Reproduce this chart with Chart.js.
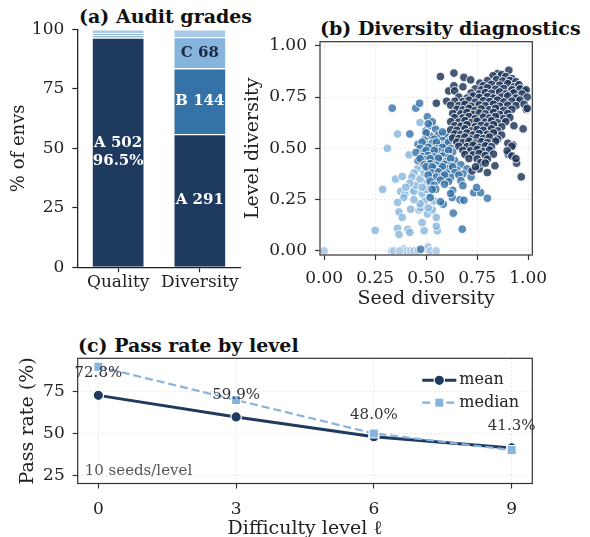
<!DOCTYPE html>
<html>
<head>
<meta charset="utf-8">
<title>Audit grades, diversity and pass rate</title>
<script src="https://cdn.jsdelivr.net/npm/chart.js@4.4.1/dist/chart.umd.min.js"></script>
<style>
    html, body { margin: 0; padding: 0; background: #fff; overflow: hidden; }
    body { width: 590px; height: 537px; position: relative; }
    canvas { position: absolute; }
    .panelTitle { position: absolute; font: bold 19px 'DejaVu Serif', serif; color: #111; line-height: 22px; white-space: nowrap; }
</style>
</head>
<body>
<div class="panelTitle" style="left:79px;top:5px">(a) Audit grades</div>
<div class="panelTitle" style="left:320px;top:17px">(b) Diversity diagnostics</div>
<div class="panelTitle" style="left:78px;top:334px">(c) Pass rate by level</div>
<canvas id="gradesChart" width="250" height="300" style="left:0;top:0"></canvas>
<canvas id="diversityChart" width="354" height="320" style="left:236px;top:0"></canvas>
<canvas id="passChart" width="590" height="222" style="left:0;top:320px"></canvas>
<script>
// ---- (a) audit grades: env counts per grade ----
const auditCategories = ['Quality', 'Diversity'];
const gradeACount = [502, 291];
const gradeBCount = [5, 144];
const gradeCCount = [5, 68];
const gradeDCount = [8, 17];
const gradeALabels = ['A 502\n96.5%', 'A 291'];
const gradeBLabels = ['', 'B 144'];
const gradeCLabels = ['', 'C 68'];
const gradeDLabels = ['', ''];
const percentTicks = [0, 25, 50, 75, 100];

// ---- (b) seed diversity vs level diversity, one point per env, split by diversity grade ----
const divGradeA = [
    [0.57,0.85],[0.636,0.867],[0.685,0.846],[0.718,0.834],[0.763,0.818],[0.61,0.78],[0.636,0.805],[0.68,0.80],
    [0.55,0.72],[0.60,0.73],[0.64,0.78],[0.95,0.73],[0.99,0.69],[0.98,0.78],[0.975,0.595],[0.925,0.517],
    [0.902,0.472],[0.943,0.428],[0.966,0.361],[0.837,0.415],[0.80,0.382],[0.76,0.40],[0.725,0.39],
    [0.905,0.881],[0.85,0.865],[0.827,0.854],
    [0.87,0.86],[0.89,0.85],[0.92,0.84],
    [0.80,0.83],[0.845,0.835],[0.875,0.828],[0.91,0.83],[0.94,0.825],
    [0.78,0.805],[0.82,0.812],[0.86,0.808],[0.90,0.815],[0.93,0.80],[0.955,0.81],
    [0.74,0.79],[0.77,0.785],[0.80,0.795],[0.84,0.788],[0.88,0.792],[0.92,0.785],[0.96,0.79],[0.99,0.785],
    [0.72,0.77],[0.76,0.765],[0.79,0.772],[0.82,0.768],[0.86,0.775],[0.89,0.765],[0.93,0.77],[0.97,0.765],
    [0.66,0.75],[0.70,0.745],[0.73,0.755],[0.76,0.748],[0.80,0.752],[0.83,0.745],[0.87,0.75],[0.90,0.755],[0.94,0.745],[0.995,0.75],
    [0.64,0.73],[0.68,0.728],[0.71,0.735],[0.74,0.725],[0.78,0.732],[0.81,0.728],[0.85,0.735],[0.88,0.726],[0.92,0.73],[0.96,0.735],
    [0.62,0.71],[0.66,0.708],[0.69,0.715],[0.72,0.705],[0.76,0.712],[0.79,0.708],[0.83,0.715],[0.86,0.705],[0.90,0.71],[0.94,0.708],[0.98,0.715],
    [0.65,0.69],[0.68,0.688],[0.71,0.695],[0.74,0.685],[0.77,0.692],[0.81,0.688],[0.84,0.695],[0.88,0.685],[0.92,0.69],[0.995,0.695],
    [0.63,0.67],[0.67,0.668],[0.70,0.675],[0.73,0.665],[0.76,0.672],[0.79,0.668],[0.83,0.675],[0.86,0.665],[0.90,0.67],
    [0.64,0.65],[0.68,0.648],[0.71,0.655],[0.74,0.645],[0.78,0.652],[0.81,0.648],[0.84,0.655],[0.88,0.645],[0.91,0.65],
    [0.62,0.63],[0.66,0.628],[0.69,0.635],[0.72,0.625],[0.75,0.632],[0.79,0.628],[0.82,0.635],[0.85,0.625],[0.89,0.63],
    [0.64,0.61],[0.67,0.608],[0.70,0.615],[0.74,0.605],[0.77,0.612],[0.80,0.608],[0.83,0.615],[0.87,0.605],[0.93,0.61],
    [0.62,0.59],[0.65,0.588],[0.69,0.595],[0.72,0.585],[0.75,0.592],[0.78,0.588],[0.82,0.595],[0.85,0.585],
    [0.64,0.57],[0.67,0.568],[0.70,0.575],[0.73,0.565],[0.76,0.572],[0.80,0.568],[0.83,0.575],[0.87,0.565],
    [0.63,0.55],[0.66,0.548],[0.69,0.555],[0.72,0.545],[0.75,0.552],[0.78,0.548],[0.81,0.555],[0.85,0.545],
    [0.65,0.53],[0.68,0.528],[0.71,0.535],[0.74,0.525],[0.77,0.532],[0.80,0.528],[0.84,0.535],[0.90,0.525],
    [0.66,0.51],[0.70,0.508],[0.73,0.515],[0.76,0.505],[0.79,0.512],[0.82,0.508],[0.92,0.51],
    [0.68,0.49],[0.717,0.488],[0.75,0.495],[0.78,0.485],[0.81,0.492],[0.897,0.488],
    [0.69,0.47],[0.73,0.468],[0.76,0.475],[0.79,0.465],[0.83,0.472],[0.92,0.463],
    [0.71,0.45],[0.75,0.448],[0.80,0.447],[0.94,0.45],
    [0.767,0.43],[0.79,0.428],[0.742,0.41]
];
const divGradeB = [
    [0.334,0.696],[0.449,0.696],[0.468,0.72],[0.506,0.654],[0.42,0.57],[0.498,0.585],[0.522,0.61],[0.547,0.593],
    [0.595,0.569],[0.53,0.63],[0.51,0.62],
    [0.52,0.56],[0.56,0.565],[0.60,0.555],[0.50,0.575],[0.58,0.58],
    [0.49,0.54],[0.54,0.545],[0.58,0.538],[0.62,0.545],
    [0.46,0.52],[0.50,0.518],[0.53,0.525],[0.57,0.515],[0.60,0.522],[0.48,0.53],[0.55,0.53],[0.61,0.53],
    [0.47,0.50],[0.51,0.505],[0.55,0.498],[0.58,0.505],[0.62,0.50],
    [0.45,0.48],[0.49,0.482],[0.52,0.475],[0.56,0.485],[0.59,0.478],[0.63,0.482],[0.50,0.49],[0.54,0.49],[0.61,0.49],
    [0.48,0.46],[0.51,0.465],[0.54,0.458],[0.58,0.462],[0.61,0.455],
    [0.46,0.44],[0.50,0.445],[0.53,0.438],[0.57,0.442],[0.60,0.435],[0.64,0.44],[0.47,0.45],[0.52,0.45],[0.56,0.452],[0.62,0.45],
    [0.49,0.42],[0.52,0.425],[0.55,0.418],[0.59,0.422],[0.62,0.415],[0.67,0.42],
    [0.51,0.40],[0.54,0.405],[0.57,0.398],[0.61,0.402],[0.65,0.395],[0.70,0.40],[0.50,0.41],[0.53,0.41],[0.58,0.41],[0.63,0.41],
    [0.53,0.38],[0.56,0.385],[0.60,0.378],[0.64,0.382],[0.68,0.375],
    [0.55,0.36],[0.58,0.365],[0.62,0.358],[0.72,0.36],[0.51,0.37],[0.59,0.37],[0.66,0.37],
    [0.52,0.34],[0.57,0.345],[0.61,0.338],[0.67,0.342],
    [0.54,0.32],[0.59,0.325],[0.68,0.318],
    [0.547,0.30],[0.63,0.295],[0.733,0.284],[0.767,0.284],
    [0.628,0.26],[0.666,0.249],[0.685,0.247],[0.633,0.184],[0.677,0.106],[0.80,0.257],[0.747,0.309],
    [0.584,0.228],[0.57,0.24],[0.62,0.28],[0.473,0.008],[0.53,0.30],[0.52,0.26]
];
const divGradeC = [
    [0.36,0.57],[0.31,0.50],[0.416,0.468],[0.47,0.626],[0.287,0.30],[0.35,0.35],[0.383,0.363],[0.375,0.29],
    [0.396,0.276],[0.39,0.26],[0.43,0.30],[0.44,0.29],[0.36,0.236],[0.367,0.19],[0.383,0.163],[0.424,0.203],
    [0.465,0.20],[0.473,0.21],[0.49,0.244],[0.457,0.40],[0.48,0.138],[0.506,0.18],[0.49,0.098],[0.555,0.098],
    [0.55,0.12],[0.55,0.163],[0.53,0.20],[0.538,0.244],[0.514,0.276],[0.50,0.333],[0.25,0.10],[0.36,0.11],
    [0.367,0.08],[0.41,0.105],[0.42,0.09],[0.44,0.38],[0.43,0.36],[0.45,0.32],[0.48,0.28],[0.50,0.30],
    [0.47,0.35],[0.49,0.38],[0.42,0.33],[0.40,0.31],[0.47,0.23],[0.51,0.21],[0.44,0.25],[0.48,0.31]
];
const divGradeD = [
    [0.0,0.0],[0.33,0.0],[0.34,0.0],[0.39,0.01],[0.40,0.0],[0.424,0.0],[0.44,0.0],[0.46,0.0],
    [0.505,0.008],[0.51,0.02],[0.52,0.0],[0.55,0.0],[0.37,0.0]
];
const unitTicks = [0, 0.25, 0.5, 0.75, 1];

// ---- (c) pass rate by difficulty level ----
const levels = [0, 3, 6, 9];
const meanPass = [72.8, 59.9, 48.0, 41.3];
const medianPass = [90, 70, 50, 40];
const levelTicks = [0, 3, 6, 9];
const passTicks = [25, 50, 75];

const NAVY = '#1f3a5f';
const MID = '#3572a8';
const LIGHT = '#86b4dc';
const PALE = '#a9c8e6';
const INK = '#222';
const SERIF = "'DejaVu Serif', serif";

Chart.defaults.font.family = SERIF;
Chart.defaults.color = INK;
Chart.defaults.animation = false;
Chart.defaults.plugins.legend.display = false;
Chart.defaults.plugins.tooltip.enabled = false;

const setTicks = (values) => (scale) => {
    scale.ticks = values.map(v => ({ value: v }));
};

// box round the plot area (b, c)
const framePlugin = {
    id: 'frame',
    afterDraw(chart) {
        const { ctx, chartArea: a } = chart;
        ctx.save();
        ctx.strokeStyle = '#333';
        ctx.lineWidth = 1.2;
        ctx.strokeRect(a.left, a.top, a.right - a.left, a.bottom - a.top);
        ctx.restore();
    }
};

// ================= (a) =================
const totals = auditCategories.map((c, i) => gradeACount[i] + gradeBCount[i] + gradeCCount[i] + gradeDCount[i]);
const toPct = (counts) => counts.map((n, i) => n / totals[i] * 100);
const segLabels = [gradeALabels, gradeBLabels, gradeCLabels, gradeDLabels];
const segLabelColors = ['#fff', '#fff', '#1a2a44', '#1a2a44'];

const barLabelPlugin = {
    id: 'barLabels',
    afterDatasetsDraw(chart) {
        const ctx = chart.ctx;
        ctx.save();
        ctx.font = `bold 15px ${SERIF}`;
        ctx.textAlign = 'center';
        ctx.textBaseline = 'middle';
        chart.data.datasets.forEach((ds, i) => {
            chart.getDatasetMeta(i).data.forEach((bar, j) => {
                const text = segLabels[i][j];
                if (!text) return;
                const lines = text.split('\n');
                const cy = (bar.y + bar.base) / 2;
                ctx.fillStyle = segLabelColors[i];
                lines.forEach((ln, k) => {
                    ctx.fillText(ln, bar.x, cy + (k - (lines.length - 1) / 2) * 18);
                });
            });
        });
        ctx.restore();
    }
};

const barDataset = (label, counts, color) => ({
    label: label,
    data: toPct(counts),
    backgroundColor: color,
    borderColor: '#fff',
    borderWidth: 1.2,
    barPercentage: 0.65,
    categoryPercentage: 1.0
});

new Chart(document.getElementById('gradesChart'), {
    type: 'bar',
    data: {
        labels: auditCategories,
        datasets: [
            barDataset('A', gradeACount, NAVY),
            barDataset('B', gradeBCount, MID),
            barDataset('C', gradeCCount, LIGHT),
            barDataset('D', gradeDCount, PALE)
        ]
    },
    options: {
        responsive: false,
        layout: { padding: { left: 8.4, top: 29.3, right: 9.3, bottom: 0 } },
        scales: {
            x: {
                stacked: true,
                grid: { drawOnChartArea: false, offset: false, tickLength: 5, tickColor: INK, tickWidth: 1.2 },
                border: { color: INK, width: 1.3 },
                ticks: { font: { size: 17 }, color: INK, padding: 0, maxRotation: 0, minRotation: 0, autoSkip: false },
                afterFit: (s) => { s.height = 32.7; }
            },
            y: {
                stacked: true,
                min: 0,
                max: 100,
                afterBuildTicks: setTicks(percentTicks),
                grid: { drawOnChartArea: false, tickLength: 5, tickColor: INK, tickWidth: 1.2 },
                border: { color: INK, width: 1.3 },
                ticks: { font: { size: 17 }, color: INK, padding: 8 },
                title: { display: true, text: '% of envs', font: { size: 18 }, padding: 0 },
                afterFit: (s) => { s.width = 68.9; }
            }
        }
    },
    plugins: [barLabelPlugin]
});

// ================= (b) =================
const scatterSet = (label, pts, color) => ({
    label: label,
    data: pts.map(p => ({ x: p[0], y: p[1] })),
    backgroundColor: color,
    borderColor: '#fff',
    borderWidth: 0.9,
    pointRadius: 4.3,
    clip: false
});

const dotGrid = { color: '#dcdcdc', lineWidth: 0.8, tickLength: 5, tickColor: '#333', tickWidth: 1.2 };

new Chart(document.getElementById('diversityChart'), {
    type: 'scatter',
    data: {
        datasets: [
            scatterSet('A', divGradeA, 'rgba(28,52,88,0.82)'),
            scatterSet('B', divGradeB, 'rgba(53,114,168,0.8)'),
            scatterSet('C', divGradeC, 'rgba(134,180,220,0.8)'),
            scatterSet('D', divGradeD, 'rgba(169,200,230,0.85)')
        ]
    },
    options: {
        responsive: false,
        layout: { padding: { left: 5.7, top: 41.7, right: 57.7, bottom: 9.2 } },
        scales: {
            x: {
                type: 'linear',
                min: -0.02,
                max: 1.02,
                afterBuildTicks: setTicks(unitTicks),
                grid: dotGrid,
                border: { display: false, dash: [1.5, 2.5] },
                ticks: { font: { size: 17 }, color: INK, padding: 8, callback: (v) => v.toFixed(2) },
                title: { display: true, text: 'Seed diversity', font: { size: 19 }, padding: 0 },
                afterFit: (s) => { s.height = 55.8; }
            },
            y: {
                type: 'linear',
                min: -0.02,
                max: 1.02,
                afterBuildTicks: setTicks(unitTicks),
                grid: dotGrid,
                border: { display: false, dash: [1.5, 2.5] },
                ticks: { font: { size: 17 }, color: INK, padding: 8, callback: (v) => v.toFixed(2) },
                title: { display: true, text: 'Level diversity', font: { size: 19 }, padding: 0 },
                afterFit: (s) => { s.width = 78.3; }
            }
        }
    },
    plugins: [framePlugin]
});

// ================= (c) =================
const MEDIAN_DASH = [8, 4];

const passExtras = {
    id: 'passExtras',
    afterDatasetsDraw(chart) {
        const { ctx, chartArea: a, scales: { x, y } } = chart;
        ctx.save();
        // value labels above the mean markers
        ctx.font = `15px ${SERIF}`;
        ctx.fillStyle = '#333';
        ctx.textAlign = 'center';
        ctx.textBaseline = 'middle';
        levels.forEach((lv, i) => {
            ctx.fillText(`${meanPass[i].toFixed(1)}%`, x.getPixelForValue(lv), y.getPixelForValue(meanPass[i]) - 22);
        });
        // note in the corner
        ctx.textAlign = 'left';
        ctx.fillStyle = '#555';
        ctx.fillText('10 seeds/level', a.left + 7, a.bottom - 12.5);

        // legend, top right inside the axes
        const x1 = a.right - 110, x2 = a.right - 76, xm = (x1 + x2) / 2;
        const rows = [a.top + 22, a.top + 44.4];
        ctx.lineCap = 'butt';
        // mean
        ctx.strokeStyle = NAVY;
        ctx.lineWidth = 3;
        ctx.beginPath(); ctx.moveTo(x1, rows[0]); ctx.lineTo(x2, rows[0]); ctx.stroke();
        ctx.fillStyle = NAVY;
        ctx.strokeStyle = '#fff';
        ctx.lineWidth = 1.2;
        ctx.beginPath(); ctx.arc(xm, rows[0], 5.2, 0, Math.PI * 2); ctx.fill(); ctx.stroke();
        // median
        ctx.strokeStyle = LIGHT;
        ctx.lineWidth = 2.2;
        ctx.setLineDash(MEDIAN_DASH);
        ctx.beginPath(); ctx.moveTo(x1, rows[1]); ctx.lineTo(x2, rows[1]); ctx.stroke();
        ctx.setLineDash([]);
        ctx.fillStyle = LIGHT;
        ctx.strokeStyle = '#fff';
        ctx.lineWidth = 1.2;
        ctx.fillRect(xm - 4.6, rows[1] - 4.6, 9.2, 9.2);
        ctx.strokeRect(xm - 4.6, rows[1] - 4.6, 9.2, 9.2);

        ctx.font = `16px ${SERIF}`;
        ctx.fillStyle = INK;
        ctx.fillText('mean', a.right - 73, rows[0]);
        ctx.fillText('median', a.right - 73, rows[1]);
        ctx.restore();
    }
};

new Chart(document.getElementById('passChart'), {
    type: 'line',
    data: {
        datasets: [
            {
                label: 'median',
                data: levels.map((lv, i) => ({ x: lv, y: medianPass[i] })),
                borderColor: LIGHT,
                borderWidth: 2.2,
                borderDash: MEDIAN_DASH,
                pointStyle: 'rect',
                pointRadius: 6.5,
                pointBackgroundColor: LIGHT,
                pointBorderColor: '#fff',
                pointBorderWidth: 1.2,
                tension: 0,
                clip: false
            },
            {
                label: 'mean',
                data: levels.map((lv, i) => ({ x: lv, y: meanPass[i] })),
                borderColor: NAVY,
                borderWidth: 3,
                pointStyle: 'circle',
                pointRadius: 5.2,
                pointBackgroundColor: NAVY,
                pointBorderColor: '#fff',
                pointBorderWidth: 1.2,
                tension: 0,
                clip: false
            }
        ]
    },
    options: {
        responsive: false,
        layout: { padding: { left: 16.9, top: 38.3, right: 57.7, bottom: 1.5 } },
        scales: {
            x: {
                type: 'linear',
                min: -0.45,
                max: 9.45,
                afterBuildTicks: setTicks(levelTicks),
                grid: dotGrid,
                border: { display: false, dash: [1.5, 2.5] },
                ticks: { font: { size: 17 }, color: INK, padding: 11 },
                title: { display: true, text: 'Difficulty level ℓ', font: { size: 19 }, padding: 0 },
                afterFit: (s) => { s.height = 57; }
            },
            y: {
                type: 'linear',
                min: 20,
                max: 95,
                afterBuildTicks: setTicks(passTicks),
                grid: dotGrid,
                border: { display: false, dash: [1.5, 2.5] },
                ticks: { font: { size: 17 }, color: INK, padding: 8 },
                title: { display: true, text: 'Pass rate (%)', font: { size: 19 }, padding: 0 },
                afterFit: (s) => { s.width = 60.8; }
            }
        }
    },
    plugins: [passExtras, framePlugin]
});
</script>
</body>
</html>
